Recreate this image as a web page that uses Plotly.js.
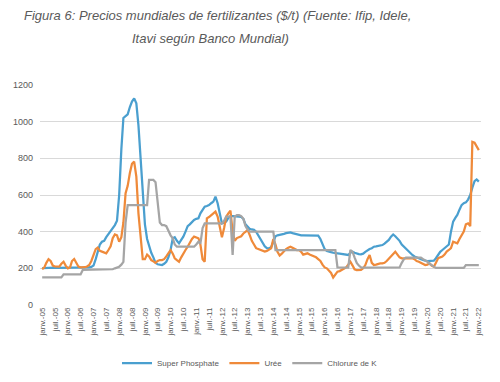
<!DOCTYPE html>
<html><head><meta charset="utf-8">
<script src="https://cdn.plot.ly/plotly-3.0.1.min.js"></script>
<style>html,body{margin:0;padding:0;background:#fff;} #chart{width:500px;height:382px;}</style>
</head><body><div id="chart"></div>
<script>
const startYear = 2005;
const titleLine1 = 'Figura 6: Precios mundiales de fertilizantes ($/t) (Fuente: Ifip, Idele,';
const titleLine2 = 'Itavi según Banco Mundial)';
const seriesNames = ['Super Phosphate', 'Urée', 'Chlorure de K'];
const seriesColors = ['#4a9fcf', '#ef8a3a', '#a5a5a5'];

const superPhosphate = [201,202,203,204,205,205,204,203,203,202,202,202,
202,202,202,202,202,203,203,203,204,205,205,208,
215,250,290,330,345,350,370,385,400,420,436,460,
600,850,1020,1030,1040,1080,1110,1127,1100,980,800,580,
440,360,320,285,260,230,222,218,218,225,236,260,
300,364,370,350,336,355,373,400,430,440,455,464,
470,473,500,520,536,540,545,555,564,591,555,500,
445,450,455,475,485,485,485,485,482,480,470,440,
425,415,412,410,400,380,355,336,320,310,309,315,
350,375,380,382,385,388,392,395,396,392,388,385,
382,380,380,380,380,380,380,380,378,378,360,330,
305,295,290,288,285,285,282,280,278,275,273,273,
285,291,285,280,278,276,280,290,300,305,310,318,
320,322,325,327,335,345,355,373,385,375,364,350,
330,318,305,295,285,273,265,258,255,250,245,242,
240,240,240,242,255,275,290,300,309,318,330,400,
455,475,491,520,545,555,560,575,600,640,675,685,673];

const uree = [195,205,230,250,240,215,210,210,209,225,236,215,
200,205,240,251,230,209,205,205,206,210,218,240,
270,305,313,295,291,285,282,300,320,364,385,380,
345,370,450,610,650,720,770,782,700,500,350,250,
250,275,265,245,238,230,240,245,245,250,265,280,
300,280,255,245,236,260,282,300,318,340,360,373,
368,364,330,250,236,473,480,491,500,509,482,420,
370,420,480,500,515,400,350,365,370,375,390,400,
409,380,350,330,310,305,300,295,291,295,300,309,
360,330,290,270,280,295,305,312,318,312,305,300,
300,290,275,278,282,275,270,265,260,250,240,220,
205,200,190,175,150,165,182,185,191,195,205,220,
236,215,195,190,191,191,200,218,250,273,230,218,
220,225,227,227,230,240,254,265,280,291,275,260,
255,255,255,255,255,255,250,240,236,230,222,218,
220,227,215,209,230,255,260,264,275,291,300,310,
345,340,336,360,380,400,440,445,430,890,885,865,845];

const chlorureK = [151,151,151,151,151,151,151,151,151,151,167,167,
167,167,167,167,167,167,167,191,191,191,191,191,
191,191,191,191,191,191,191,191,191,195,200,205,
209,220,235,450,545,545,545,545,545,545,545,545,
545,545,682,682,682,670,560,450,436,436,430,400,
380,364,330,318,318,318,318,318,318,318,318,318,
330,345,335,420,445,445,445,445,445,445,445,445,
445,460,482,482,482,273,482,490,490,485,470,430,
410,400,400,400,400,400,400,400,400,400,400,400,
400,300,300,300,300,300,300,300,300,300,300,300,
300,300,300,300,300,300,300,300,300,300,300,300,
300,300,300,300,300,300,205,204,204,204,204,204,
300,290,260,230,215,205,204,204,204,204,204,204,
204,204,204,204,204,204,204,204,204,204,204,205,
230,250,258,258,258,258,258,258,258,258,250,245,
236,225,215,209,202,202,202,202,202,202,202,202,
202,202,202,202,202,202,218,218,218,218,218,218,218];

const tickLabels = ['janv.-05','juil.-05','janv.-06','juil.-06','janv.-07','juil.-07','janv.-08','juil.-08',
'janv.-09','juil.-09','janv.-10','juil.-10','janv.-11','juil.-11','janv.-12','juil.-12','janv.-13','juil.-13',
'janv.-14','juil.-14','janv.-15','juil.-15','janv.-16','juil.-16','janv.-17','juil.-17','janv.-18','juil.-18',
'janv.-19','juil.-19','janv.-20','juil.-20','janv.-21','juil.-21','janv.-22'];

const months = superPhosphate.map((_, i) => {
  const y = startYear + Math.floor(i / 12);
  const mo = (i % 12) + 1;
  return y + '-' + String(mo).padStart(2, '0') + '-01';
});
const tickVals = tickLabels.map((_, i) => months[i * 6]);

const allSeries = [superPhosphate, uree, chlorureK];
const traces = allSeries.map((vals, k) => ({
  type: 'scatter', mode: 'lines', x: months, y: vals, name: seriesNames[k],
  line: {color: seriesColors[k], width: 2.25}, hoverinfo: 'skip'
}));

function titleFont() {
  return {family: 'Liberation Sans, Arial, sans-serif', size: 13, color: '#5a5a5a', style: 'italic'};
}

const layout = {
  width: 500, height: 382,
  margin: {l: 40, r: 19, t: 85, b: 77},
  paper_bgcolor: '#ffffff', plot_bgcolor: '#ffffff',
  font: {family: 'Liberation Sans, Arial, sans-serif', color: '#595959'},
  annotations: [
    {text: titleLine1, font: titleFont(), showarrow: false,
     xref: 'paper', x: (22 - 40) / 441, xanchor: 'left', yref: 'paper', y: (305 - 16) / 220, yanchor: 'middle'},
    {text: titleLine2, font: titleFont(), showarrow: false,
     xref: 'paper', x: (130 - 40) / 441, xanchor: 'left', yref: 'paper', y: (305 - 38.5) / 220, yanchor: 'middle'}
  ],
  xaxis: {type: 'date', range: ['2004-12-01', '2022-02-01'], tickmode: 'array', tickvals: tickVals, ticktext: tickLabels,
    tickangle: -90, tickfont: {size: 8, color: '#595959'}, showgrid: false, zeroline: false, showline: false, ticks: ''},
  yaxis: {range: [0, 1200], dtick: 200, tick0: 0, tickfont: {size: 9, color: '#595959'}, gridcolor: '#d9d9d9', gridwidth: 1,
    zeroline: false, showline: false, ticks: '', ticklabelstandoff: 6},
  legend: {orientation: 'h', xref: 'container', x: 0.5, xanchor: 'center', yref: 'container', y: 1 - 363/382, yanchor: 'middle',
    font: {size: 8, color: '#595959'}, bgcolor: 'rgba(0,0,0,0)'},
  showlegend: true
};

Plotly.newPlot('chart', traces, layout, {staticPlot: true, displayModeBar: false});
</script>
</body></html>
